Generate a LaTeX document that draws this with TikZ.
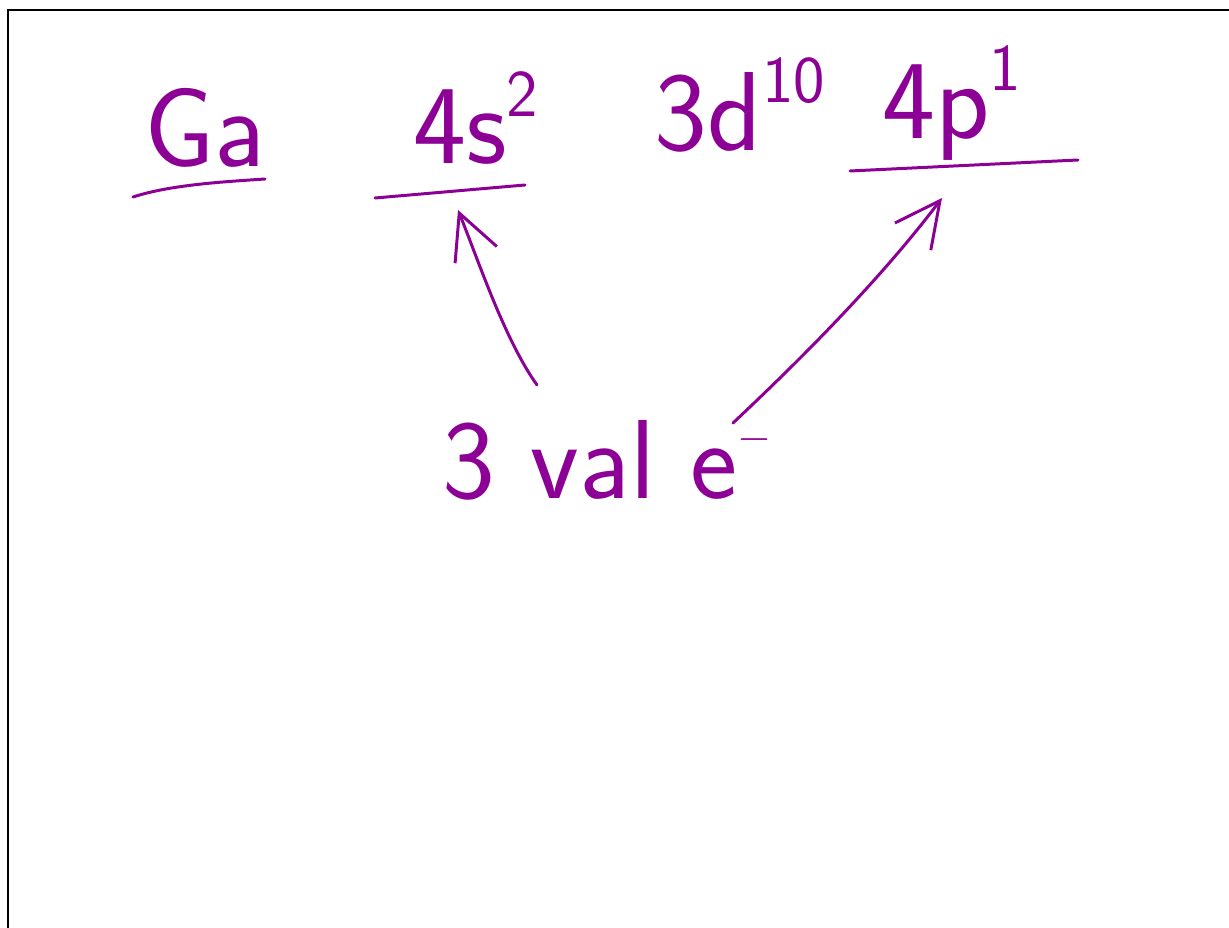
\documentclass[tikz,border=0pt]{standalone}
\usepackage{tikz}
\usetikzlibrary{arrows.meta,positioning}
\definecolor{ink}{RGB}{140,0,150}
\newcommand{\hsup}[1]{\raisebox{0.42em}{\fontsize{38}{38}\selectfont#1}}

\begin{document}
\begin{tikzpicture}[x=0.02cm,y=-0.02cm,
hand/.style={text=ink,inner sep=0pt,font=\sffamily\fontsize{64}{64}\selectfont},
uline/.style={draw=ink,line width=1.7pt,line cap=round},
flow/.style={-{Straight Barb[length=9mm,width=9mm,line width=1.7pt]},draw=ink,line width=1.7pt,line cap=round}]
\useasboundingbox (0,0) rectangle (1229,928);
\draw[line width=1.4pt] (8,928) -- (8,10) -- (1229,10);
\node[hand] (ga) at (205,128) {Ga};
\node[hand] (s4) at (476,118) {4s\hsup{2}};
\node[hand] (d3) at (740,105) {3d\hsup{10}};
\node[hand] (p4) at (952,103) {4p\hsup{1}};
\node[hand] (val) at (607,460) {3 val e\hsup{$-$}};
% underlines
\draw[uline] (133,197) .. controls (170,185) and (220,182) .. (265,179);
\draw[uline] (375,198) -- (525,185);
\draw[uline] (850,171) -- (1078,160);
% arrows to the valence shells
\coordinate (t1) at (537,385);
\coordinate (h1) at (458,210);
\coordinate (t2) at (733,423);
\coordinate (h2) at (942,198);
\draw[flow] (t1) .. controls (505,340) and (480,265) .. (h1);
\draw[flow] (t2) .. controls (800,360) and (880,280) .. (h2);
\end{tikzpicture}
\end{document}
